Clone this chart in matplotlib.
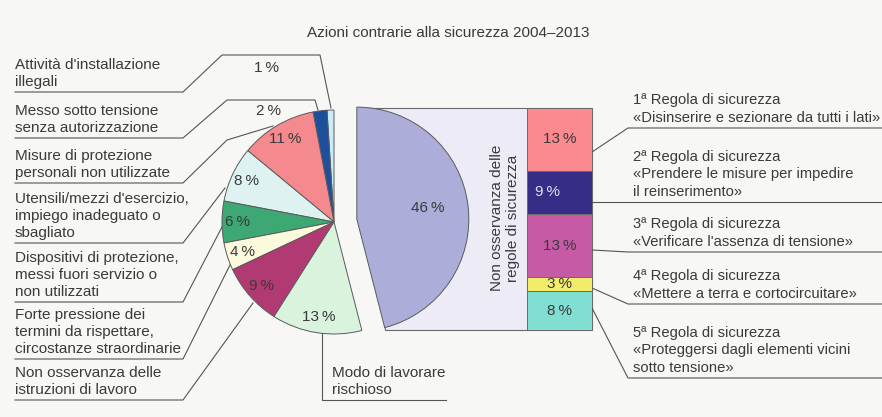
import matplotlib.pyplot as plt
from matplotlib.patches import Polygon
import numpy as np

plt.rcParams['font.family'] = ['Liberation Sans', 'DejaVu Sans']

# pie: causes, counterclockwise from the top
pie_labels = ["Attività d'installazione\nillegali",
              "Messo sotto tensione\nsenza autorizzazione",
              "Misure di protezione\npersonali non utilizzate",
              "Utensili/mezzi d'esercizio,\nimpiego inadeguato o\nsbagliato",
              "Dispositivi di protezione,\nmessi fuori servizio o\nnon utilizzati",
              "Forte pressione dei\ntermini da rispettare,\ncircostanze straordinarie",
              "Non osservanza delle\nistruzioni di lavoro",
              "Modo di lavorare\nrischioso",
              "Non osservanza delle\nregole di sicurezza"]
pie_values = [1, 2, 11, 8, 6, 4, 9, 13, 46]
pie_colors = ['#c9ecf6', '#1d4f9c', '#f58a8e', '#def3f1', '#3da874',
              '#fbfadc', '#b13a72', '#d9f3dd', '#acaed9']

# bar: breakdown of the 46 % slice, top to bottom
bar_labels = ["1ª Regola di sicurezza\n«Disinserire e sezionare da tutti i lati»",
              "2ª Regola di sicurezza\n«Prendere le misure per impedire\nil reinserimento»",
              "3ª Regola di sicurezza\n«Verificare l'assenza di tensione»",
              "4ª Regola di sicurezza\n«Mettere a terra e cortocircuitare»",
              "5ª Regola di sicurezza\n«Proteggersi dagli elementi vicini\nsotto tensione»"]
bar_values = [13, 9, 13, 3, 8]
bar_colors = ['#fa8a8e', '#362d86', '#c75aa5', '#f3ec6a', '#80ded2']

W, H = 882, 417
TXT = '#3a3a3a'
LINE = '#555555'
FS = 11
LS = 1.28


def Y(y):
    # layout positions are measured from the top of the picture
    return H - y


fig = plt.figure(figsize=(W / 100, H / 100), dpi=100, facecolor='#f7f7f5')
ax = fig.add_axes([0, 0, 1, 1])

pct = [f"{v}\u2009%" for v in pie_values]
wedges, texts = ax.pie(pie_values, colors=pie_colors, startangle=90, counterclock=True,
                       radius=112, center=(334, Y(222)),
                       explode=[0] * 8 + [23],
                       labels=pct, labeldistance=0.86,
                       wedgeprops=dict(edgecolor='#5a5a5a', linewidth=0.7),
                       textprops=dict(color=TXT, fontsize=FS, ha='center', va='center'))
ax.set_xlim(0, W)
ax.set_ylim(0, H)
ax.set_aspect('auto')
ax.axis('off')

# small slices labelled outside, big slice label
texts[0].set_position((267, Y(68)))
texts[1].set_position((268, Y(111)))
w = wedges[-1]
texts[-1].set_position((w.center[0] + 0.64 * w.r * np.cos(np.radians(9)),
                        w.center[1] + 0.64 * w.r * np.sin(np.radians(9))))

# stacked bar
bx0, bx1, by0, by1 = 527, 592, 108, 330
bax = fig.add_axes([bx0 / W, Y(by1) / H, (bx1 - bx0) / W, (by1 - by0) / H])
total = sum(bar_values)
bottoms = total - np.cumsum(bar_values)
bax.bar(0, bar_values, bottom=bottoms, width=1, color=bar_colors,
        edgecolor='#6a6a6a', linewidth=0.7)
bax.set_xlim(-0.5, 0.5)
bax.set_ylim(0, total)
bax.axis('off')
for v, b, c in zip(bar_values, bottoms, bar_colors):
    dark = c == '#362d86'
    bax.text(-0.18 if dark else 0, b + v / 2, f"{v}\u2009%", ha='center', va='center',
             fontsize=FS, color='#e0e0f0' if dark else TXT)

# light box joining the big slice to the bar
t1, t2 = np.radians(w.theta1), np.radians(w.theta2)
top = (w.center[0] + w.r * np.cos(t2), Y(by0))
bot = (w.center[0] + w.r * np.cos(t1), Y(by1))
ax.add_patch(Polygon([top, (bx1, Y(by0)), (bx1, Y(by1)), bot], closed=True,
                     facecolor='#ecebf6', edgecolor='#6a6a6a', linewidth=0.8, zorder=0.5))
ax.text(505, Y(218), pie_labels[-1], rotation=90, ha='center', va='center',
        fontsize=FS, color=TXT, linespacing=1.15)

# left captions with leader lines
left_under = [92, 138, 183, 243, 302, 359, 400]
left_leaders = [[(183, 92), (222, 55), (320, 55), (331, 108)],
                [(183, 138), (227, 100), (315, 100), (318, 110)],
                [(183, 183), (227, 140), (273, 126)],
                [(183, 243), (225, 188)],
                [(183, 302), (222, 227)],
                [(183, 359), (230, 265)],
                [(183, 400), (253, 303)]]
for lab, uy, pts in zip(pie_labels[:7], left_under, left_leaders):
    ax.text(15, Y(uy - 3), lab, ha='left', va='bottom', fontsize=FS, color=TXT,
            linespacing=LS)
    xs = [15] + [p[0] for p in pts]
    ys = [Y(uy)] + [Y(p[1]) for p in pts]
    ax.plot(xs, ys, color=LINE, lw=0.8)

ax.plot([322, 322, 446], [Y(333), Y(400), Y(400)], color=LINE, lw=0.8)
ax.text(332, Y(397), pie_labels[7], ha='left', va='bottom', fontsize=FS, color=TXT,
        linespacing=LS)

# right captions
right_under = [128, 202, 252, 304, 378]
right_from = [152, 202, 250, 288, 308]
for lab, uy, fy in zip(bar_labels, right_under, right_from):
    ax.text(633, Y(uy - 3), lab, ha='left', va='bottom', fontsize=10.6, color=TXT,
            linespacing=1.32)
    x0 = 628 if fy != uy else bx1
    ax.plot([bx1, x0, W], [Y(fy), Y(uy), Y(uy)], color=LINE, lw=0.8)

ax.text(448, Y(33), "Azioni contrarie alla sicurezza 2004\u20132013", ha='center',
        va='center', fontsize=FS, color=TXT)

fig.savefig('out.png', dpi=100, facecolor=fig.get_facecolor())
